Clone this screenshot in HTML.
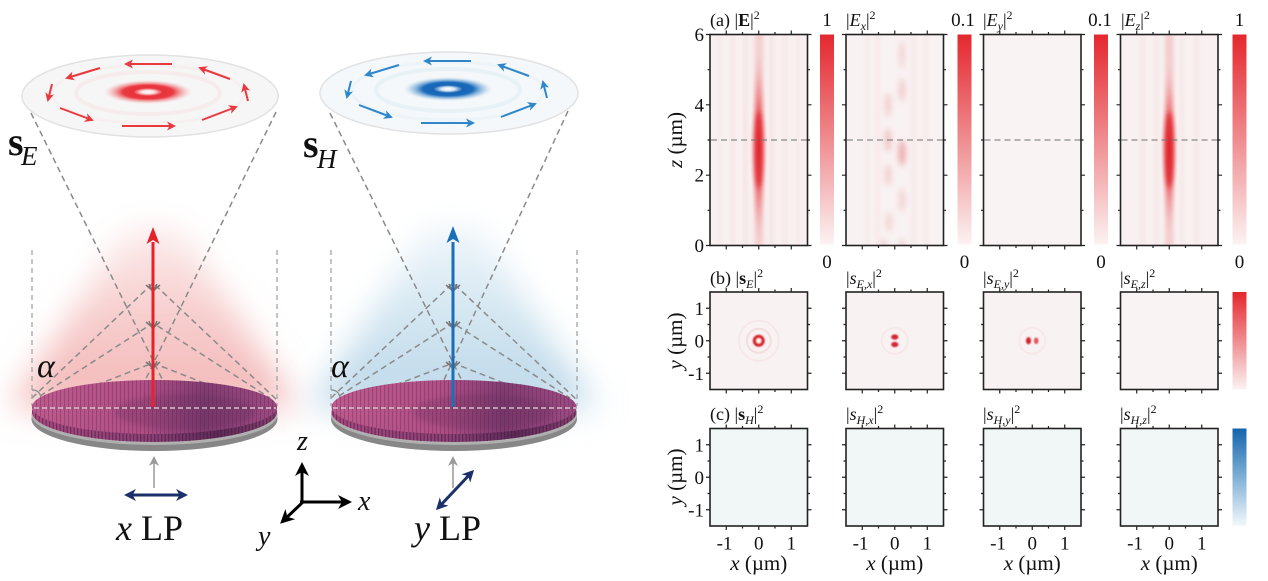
<!DOCTYPE html>
<html><head><meta charset="utf-8"><style>
html,body{margin:0;padding:0;background:#fff;}
svg{display:block;}
text{font-family:"Liberation Serif",serif;fill:#111;}
</style></head><body>
<svg width="1268" height="581" viewBox="0 0 1268 581" xmlns="http://www.w3.org/2000/svg" font-family="Liberation Serif, serif">
<defs>
  <marker id="mr" markerWidth="9" markerHeight="9" refX="7" refY="4.5" orient="auto" markerUnits="userSpaceOnUse"><path d="M0,0 L9,4.5 L0,9 L2.5,4.5z" fill="#e8393f"/></marker>
  <marker id="mb" markerWidth="9" markerHeight="9" refX="7" refY="4.5" orient="auto" markerUnits="userSpaceOnUse"><path d="M0,0 L9,4.5 L0,9 L2.5,4.5z" fill="#2f86c8"/></marker>
  <marker id="mk" markerWidth="14" markerHeight="14" refX="10" refY="7" orient="auto" markerUnits="userSpaceOnUse"><path d="M0,0 L14,7 L0,14 L4,7z" fill="#000"/></marker>
  <marker id="mg" markerWidth="10" markerHeight="10" refX="8" refY="5" orient="auto" markerUnits="userSpaceOnUse"><path d="M0,0 L10,5 L0,10 L3,5z" fill="#999"/></marker>
  <marker id="mn" markerWidth="12" markerHeight="12" refX="9" refY="6" orient="auto-start-reverse" markerUnits="userSpaceOnUse"><path d="M0,0 L12,6 L0,12 L3.5,6z" fill="#1b2f6b"/></marker>

  <linearGradient id="glR" x1="0" y1="0" x2="0" y2="1"><stop offset="0" stop-color="#fcecec"/><stop offset="0.5" stop-color="#f7cdcd"/><stop offset="1" stop-color="#f3b6b6"/></linearGradient>
  <linearGradient id="glB" x1="0" y1="0" x2="0" y2="1"><stop offset="0" stop-color="#eef5fa"/><stop offset="0.5" stop-color="#d3e6f1"/><stop offset="1" stop-color="#bcd7e9"/></linearGradient>
  <filter id="bigblur" filterUnits="userSpaceOnUse" x="-50" y="150" width="700" height="330"><feGaussianBlur stdDeviation="16"/></filter>
  <radialGradient id="donR" cx="0.5" cy="0.5" r="0.5"><stop offset="0" stop-color="#fff"/><stop offset="0.14" stop-color="#fbe0e0"/><stop offset="0.32" stop-color="#e8323a"/><stop offset="0.55" stop-color="#ea3a42"/><stop offset="0.8" stop-color="#f39a9d" stop-opacity="0.5"/><stop offset="1" stop-color="#f4f4f4" stop-opacity="0"/></radialGradient>
  <radialGradient id="donB" cx="0.5" cy="0.5" r="0.5"><stop offset="0" stop-color="#fff"/><stop offset="0.14" stop-color="#dbe9f5"/><stop offset="0.32" stop-color="#1664b6"/><stop offset="0.55" stop-color="#1c6cbc"/><stop offset="0.8" stop-color="#86b4dc" stop-opacity="0.5"/><stop offset="1" stop-color="#f4f4f4" stop-opacity="0"/></radialGradient>
  <linearGradient id="mag" x1="0" y1="0" x2="1" y2="0"><stop offset="0" stop-color="#bd5a8d"/><stop offset="0.45" stop-color="#b04f85"/><stop offset="0.7" stop-color="#823d72"/><stop offset="1" stop-color="#9c4a80"/></linearGradient>
  <linearGradient id="magS" x1="0" y1="0" x2="1" y2="0"><stop offset="0" stop-color="#a8487e"/><stop offset="0.5" stop-color="#8a3f74"/><stop offset="0.75" stop-color="#5e2a58"/><stop offset="1" stop-color="#86406f"/></linearGradient>
  <pattern id="pil" width="3.5" height="10" patternUnits="userSpaceOnUse"><rect x="0" y="0" width="1.3" height="10" fill="#40183c" opacity="0.5"/></pattern>
  <pattern id="pil2" width="4" height="6" patternUnits="userSpaceOnUse"><rect x="0" y="0" width="1" height="6" fill="#5a2350" opacity="0.35"/></pattern>
  <clipPath id="lowL"><rect x="20" y="402" width="280" height="60"/></clipPath>
  <clipPath id="lowR"><rect x="318" y="402" width="280" height="60"/></clipPath>

  <linearGradient id="cbR" x1="0" y1="0" x2="0" y2="1"><stop offset="0" stop-color="#e4272e"/><stop offset="0.5" stop-color="#ef8c8f"/><stop offset="1" stop-color="#fcf3f3"/></linearGradient>
  <linearGradient id="cbB" x1="0" y1="0" x2="0" y2="1"><stop offset="0" stop-color="#1564ac"/><stop offset="0.5" stop-color="#7fb0d6"/><stop offset="1" stop-color="#f3f8fb"/></linearGradient>
  <radialGradient id="streak" cx="0.5" cy="0.5" r="0.5"><stop offset="0" stop-color="#df1f28"/><stop offset="0.3" stop-color="#e8474e" stop-opacity="0.85"/><stop offset="0.65" stop-color="#f09ea1" stop-opacity="0.45"/><stop offset="1" stop-color="#f9f1f1" stop-opacity="0"/></radialGradient>
  <filter id="bl2" x="-50%" y="-50%" width="200%" height="200%"><feGaussianBlur stdDeviation="2"/></filter>
  <filter id="bl3" x="-50%" y="-50%" width="200%" height="200%"><feGaussianBlur stdDeviation="3"/></filter>
  <filter id="bl1" x="-50%" y="-50%" width="200%" height="200%"><feGaussianBlur stdDeviation="0.7"/></filter>
  <clipPath id="cA1"><rect x="710" y="34.5" width="97.5" height="211"/></clipPath>
  <clipPath id="cA2"><rect x="846" y="34.5" width="97.5" height="211"/></clipPath>
  <clipPath id="cA4"><rect x="1120.5" y="34.5" width="97.5" height="211"/></clipPath>

  <g id="tkA" fill="none" stroke="#222" stroke-width="1.2">
    <path d="M16.25 0v-4M48.75 0v-4M81.25 0v-4M32.5 0v-2.5M65 0v-2.5M16.25 211v4M48.75 211v4M81.25 211v4M32.5 211v2.5M65 211v2.5M0 0h-4M0 70.33h-4M0 140.67h-4M0 211h-4M0 35.17h-2.5M0 105.5h-2.5M0 175.83h-2.5M97.5 0h4M97.5 70.33h4M97.5 140.67h4M97.5 211h4M97.5 35.17h2.5M97.5 105.5h2.5M97.5 175.83h2.5"/>
  </g>
  <g id="tkS" fill="none" stroke="#222" stroke-width="1.2">
    <path d="M16.25 0v-4M48.75 0v-4M81.25 0v-4M32.5 0v-2.5M65 0v-2.5M16.25 97.5v4M48.75 97.5v4M81.25 97.5v4M32.5 97.5v2.5M65 97.5v2.5M0 16.25h-4M0 48.75h-4M0 81.25h-4M0 32.5h-2.5M0 65h-2.5M97.5 16.25h4M97.5 48.75h4M97.5 81.25h4M97.5 32.5h2.5M97.5 65h2.5"/>
  </g>
</defs>

<!-- ================= LEFT ILLUSTRATION ================= -->
<polygon points="128,228 180,228 298,408 10,408" fill="url(#glR)" filter="url(#bigblur)"/>
<polygon points="427,228 479,228 597,408 309,408" fill="url(#glB)" filter="url(#bigblur)"/>

<!-- top discs -->
<ellipse cx="150" cy="96" rx="128" ry="41" fill="#f6f6f6" stroke="#e2e2e2" stroke-width="1.5"/>
<ellipse cx="148" cy="93" rx="72" ry="21" fill="none" stroke="#f6ecec" stroke-width="4"/>
<ellipse cx="148" cy="94" rx="96" ry="29" fill="none" stroke="#f7f0f0" stroke-width="3"/>
<ellipse cx="148" cy="92" rx="46" ry="12.5" fill="url(#donR)"/>
<ellipse cx="449" cy="93" rx="129" ry="41" fill="#f4f8fa" stroke="#e2e2e2" stroke-width="1.5"/>
<ellipse cx="448" cy="90" rx="72" ry="21" fill="none" stroke="#e7f1f6" stroke-width="4"/>
<ellipse cx="448" cy="91" rx="96" ry="29" fill="none" stroke="#edf4f7" stroke-width="3"/>
<ellipse cx="448" cy="89" rx="46" ry="12.5" fill="url(#donB)"/>

<g stroke="#e8393f" stroke-width="2" fill="none" marker-end="url(#mr)">
  <path d="M172,64 L126,64"/>
  <path d="M100,68 L67,78"/>
  <path d="M52,84 L48,100"/>
  <path d="M60,108 L92,120"/>
  <path d="M122,126 L174,126"/>
  <path d="M202,120 L236,107"/>
  <path d="M248,101 L244,85"/>
  <path d="M230,79 L200,68"/>
</g>
<g stroke="#2f86c8" stroke-width="2" fill="none" marker-end="url(#mb)" transform="translate(299,-3)">
  <path d="M172,64 L126,64"/>
  <path d="M100,68 L67,78"/>
  <path d="M52,84 L48,100"/>
  <path d="M60,108 L92,120"/>
  <path d="M122,126 L174,126"/>
  <path d="M202,120 L236,107"/>
  <path d="M248,101 L244,85"/>
  <path d="M230,79 L200,68"/>
</g>

<text x="8" y="155" font-size="40" font-weight="bold">s</text>
<text x="21" y="165" font-size="27" font-style="italic">E</text>
<text x="303" y="157" font-size="40" font-weight="bold">s</text>
<text x="317" y="168" font-size="27" font-style="italic">H</text>

<g stroke="#8a8a8a" stroke-width="1.5" stroke-dasharray="6 4" fill="none">
  <path d="M31,113 L170,395 M276,112 L138,395"/>
  <path d="M32,398 L153,283 L277,400"/>
  <path d="M40,396 L153,323 L270,398"/>
  <path d="M78,392 L153,363 L232,394"/>
  <path d="M330,113 L469,395 M568,111 L437,395"/>
  <path d="M331,398 L453,283 L577,400"/>
  <path d="M339,396 L453,323 L570,398"/>
  <path d="M377,392 L453,363 L532,394"/>
</g>
<g stroke="#aaaaaa" stroke-width="1.4" stroke-dasharray="5 4" fill="none">
  <path d="M32,250 V406 M277,250 V406 M331,250 V406 M577,250 V406"/>
</g>
<g stroke="#8a8a8a" stroke-width="1.2" fill="none">
  <path d="M32,390 Q40,390 41,398"/>
  <path d="M331,390 Q339,390 340,398"/>
</g>

<!-- bottom discs -->
<ellipse cx="154.5" cy="419" rx="123" ry="32" fill="#878787"/>
<ellipse cx="154.5" cy="415" rx="123" ry="30" fill="#b0b0b0"/>
<ellipse cx="154.5" cy="412" rx="122.5" ry="30" fill="url(#magS)"/>
<ellipse cx="154.5" cy="412" rx="122.5" ry="30" fill="url(#pil)" clip-path="url(#lowL)"/>
<ellipse cx="154.5" cy="407" rx="122.5" ry="27" fill="url(#mag)"/>
<ellipse cx="154.5" cy="407" rx="122.5" ry="27" fill="url(#pil2)"/>
<ellipse cx="185" cy="412" rx="70" ry="18" fill="#5a2752" opacity="0.25" filter="url(#bl3)"/>
<ellipse cx="454" cy="419" rx="123" ry="32" fill="#878787"/>
<ellipse cx="454" cy="415" rx="123" ry="30" fill="#b0b0b0"/>
<ellipse cx="454" cy="412" rx="122.5" ry="30" fill="url(#magS)"/>
<ellipse cx="454" cy="412" rx="122.5" ry="30" fill="url(#pil)" clip-path="url(#lowR)"/>
<ellipse cx="454" cy="407" rx="122.5" ry="27" fill="url(#mag)"/>
<ellipse cx="454" cy="407" rx="122.5" ry="27" fill="url(#pil2)"/>
<ellipse cx="484" cy="412" rx="70" ry="18" fill="#5a2752" opacity="0.25" filter="url(#bl3)"/>
<g stroke="#dddddd" stroke-width="1.2" stroke-dasharray="5 3">
  <path d="M34,408 H276 M333,408 H576"/>
</g>

<g stroke="#777" stroke-width="1.5" fill="none">
  <path d="M153,295 V283 M153,291 L146,285 M153,291 L160,285 M153,293 L149,284 M153,293 L157,284"/>
  <path d="M153,332 V320 M153,328 L146,322 M153,328 L160,322 M153,330 L149,321 M153,330 L157,321"/>
  <path d="M153,372 V360 M153,368 L146,362 M153,368 L160,362 M153,370 L149,361 M153,370 L157,361"/>
  <path d="M453,295 V283 M453,291 L446,285 M453,291 L460,285 M453,293 L449,284 M453,293 L457,284"/>
  <path d="M453,332 V320 M453,328 L446,322 M453,328 L460,322 M453,330 L449,321 M453,330 L457,321"/>
  <path d="M453,372 V360 M453,368 L446,362 M453,368 L460,362 M453,370 L449,361 M453,370 L457,361"/>
</g>

<path d="M153,407 V242" stroke="#e4232b" stroke-width="3"/>
<path d="M153,227 L146.5,244 L153,240 L159.5,244z" fill="#e4232b"/>
<path d="M453,407 V242" stroke="#1a6fba" stroke-width="3"/>
<path d="M453,226 L446.5,243 L453,239 L459.5,243z" fill="#1a6fba"/>

<text x="37" y="377" font-size="34" font-style="italic">α</text>
<text x="331" y="377" font-size="34" font-style="italic">α</text>

<path d="M154,488 V458" stroke="#999" stroke-width="1.5" marker-end="url(#mg)"/>
<path d="M453,488 V458" stroke="#999" stroke-width="1.5" marker-end="url(#mg)"/>
<path d="M127,495 H185" stroke="#1b2f6b" stroke-width="3" marker-start="url(#mn)" marker-end="url(#mn)"/>
<path d="M438,508 L472,472" stroke="#1b2f6b" stroke-width="3" marker-start="url(#mn)" marker-end="url(#mn)"/>

<text x="116" y="540" font-size="36"><tspan font-style="italic">x</tspan> LP</text>
<text x="414" y="540" font-size="36"><tspan font-style="italic">y</tspan> LP</text>

<g stroke="#000" stroke-width="3" fill="none">
  <path d="M302,503 V466" marker-end="url(#mk)"/>
  <path d="M300,502 H348" marker-end="url(#mk)"/>
  <path d="M303,502 L283,521" marker-end="url(#mk)"/>
</g>
<text x="297" y="450" font-size="28" font-style="italic">z</text>
<text x="358" y="510" font-size="28" font-style="italic">x</text>
<text x="258" y="545" font-size="28" font-style="italic">y</text>

<!-- ================= RIGHT PLOTS ================= -->
<rect x="710" y="34.5" width="97.5" height="211" fill="#f9f1f1"/>
<rect x="846" y="34.5" width="97.5" height="211" fill="#f9f2f2"/>
<rect x="983.5" y="34.5" width="97.5" height="211" fill="#f9f3f3"/>
<rect x="1120.5" y="34.5" width="97.5" height="211" fill="#f9f1f1"/>

<g clip-path="url(#cA1)">
  <g filter="url(#bl2)" fill="#f3dddd" opacity="0.8">
    <rect x="744" y="34" width="3.5" height="212"/><rect x="770" y="34" width="3.5" height="212"/>
    <rect x="731" y="34" width="3" height="212"/><rect x="783.5" y="34" width="3" height="212"/>
    <rect x="718" y="34" width="3" height="212" opacity="0.6"/><rect x="796.5" y="34" width="3" height="212" opacity="0.6"/>
  </g>
  <rect x="754.5" y="34" width="9" height="212" fill="#f4cfd0" filter="url(#bl2)"/>
  <ellipse cx="758.75" cy="148" rx="9" ry="110" fill="url(#streak)"/>
  <ellipse cx="758.75" cy="150" rx="5" ry="38" fill="#e2262d" opacity="0.6" filter="url(#bl2)"/>
</g>
<g clip-path="url(#cA2)">
  <g filter="url(#bl2)" fill="#f4e2e2" opacity="0.8">
    <rect x="866" y="34" width="3" height="212"/><rect x="876" y="34" width="3" height="212"/>
    <rect x="912" y="34" width="3" height="212"/><rect x="924" y="34" width="3" height="212"/>
  </g>
  <g filter="url(#bl3)">
    <ellipse cx="902" cy="55" rx="3" ry="14" fill="#f4d3d4"/>
    <ellipse cx="902" cy="90" rx="3.5" ry="12" fill="#f3cfd0"/>
    <ellipse cx="888" cy="105" rx="3.5" ry="12" fill="#f3d0d1"/>
    <ellipse cx="888" cy="140" rx="3.5" ry="12" fill="#f1c6c8"/>
    <ellipse cx="902" cy="153" rx="4" ry="13" fill="#eeb0b3"/>
    <ellipse cx="888" cy="175" rx="3.5" ry="11" fill="#f3d0d1"/>
    <ellipse cx="902" cy="200" rx="3.5" ry="12" fill="#f4d4d5"/>
    <ellipse cx="889" cy="222" rx="3.5" ry="10" fill="#f4d6d7"/>
    <ellipse cx="884" cy="244" rx="3" ry="5" fill="#f1cfd0"/>
    <ellipse cx="902" cy="244" rx="3" ry="5" fill="#f1cfd0"/>
  </g>
</g>
<g clip-path="url(#cA4)">
  <g filter="url(#bl2)" fill="#f3dcdc" opacity="0.7">
    <rect x="1155" y="34" width="3" height="212"/><rect x="1180.5" y="34" width="3" height="212"/>
    <rect x="1141" y="34" width="3" height="212"/><rect x="1195" y="34" width="3" height="212"/>
  </g>
  <rect x="1165" y="34" width="8.5" height="212" fill="#f4cbcc" filter="url(#bl2)"/>
  <ellipse cx="1169.25" cy="150" rx="9" ry="98" fill="url(#streak)"/>
  <ellipse cx="1169.25" cy="150" rx="5" ry="38" fill="#e0232b" opacity="0.65" filter="url(#bl2)"/>
</g>

<g stroke="#707070" stroke-width="1.1" stroke-dasharray="6 4">
  <path d="M711,140 H807 M847,140 H943 M984.5,140 H1080.5 M1121.5,140 H1217.5"/>
</g>

<g fill="none" stroke="#222" stroke-width="1.6">
  <rect x="710" y="34.5" width="97.5" height="211"/>
  <rect x="846" y="34.5" width="97.5" height="211"/>
  <rect x="983.5" y="34.5" width="97.5" height="211"/>
  <rect x="1120.5" y="34.5" width="97.5" height="211"/>
</g>
<use href="#tkA" transform="translate(710,34.5)"/>
<use href="#tkA" transform="translate(846,34.5)"/>
<use href="#tkA" transform="translate(983.5,34.5)"/>
<use href="#tkA" transform="translate(1120.5,34.5)"/>

<rect x="820" y="34.5" width="14" height="210" fill="url(#cbR)"/>
<rect x="957.5" y="34.5" width="14" height="210" fill="url(#cbR)"/>
<rect x="1094" y="34.5" width="14" height="210" fill="url(#cbR)"/>
<rect x="1232.5" y="34.5" width="14" height="210" fill="url(#cbR)"/>

<rect x="710" y="292" width="97.5" height="97.5" fill="#f9f2f2"/>
<rect x="846" y="292" width="97.5" height="97.5" fill="#f9f2f2"/>
<rect x="983.5" y="292" width="97.5" height="97.5" fill="#f9f2f2"/>
<rect x="1120.5" y="292" width="97.5" height="97.5" fill="#f9f3f3"/>
<circle cx="758.75" cy="340.75" r="20" fill="none" stroke="#f6e8e8" stroke-width="2"/>
<circle cx="758.75" cy="340.75" r="12" fill="none" stroke="#f3dddd" stroke-width="2"/>
<circle cx="758.75" cy="340.75" r="4.3" fill="#fff6ee" stroke="#d6212b" stroke-width="3.4" filter="url(#bl1)"/>
<circle cx="894.75" cy="340.75" r="13" fill="none" stroke="#f6e8e8" stroke-width="2"/>
<ellipse cx="894.75" cy="337" rx="3.6" ry="2.6" fill="#d42836" filter="url(#bl1)"/>
<ellipse cx="894.75" cy="344.5" rx="3.6" ry="2.6" fill="#d42836" filter="url(#bl1)"/>
<circle cx="1032.25" cy="340.75" r="13" fill="none" stroke="#f6e9e9" stroke-width="2"/>
<ellipse cx="1028.5" cy="340.75" rx="2.6" ry="3.6" fill="#d52731" filter="url(#bl1)"/>
<ellipse cx="1036.2" cy="340.75" rx="2.3" ry="3.3" fill="#e2585f" filter="url(#bl1)"/>
<g fill="none" stroke="#222" stroke-width="1.6">
  <rect x="710" y="292" width="97.5" height="97.5"/>
  <rect x="846" y="292" width="97.5" height="97.5"/>
  <rect x="983.5" y="292" width="97.5" height="97.5"/>
  <rect x="1120.5" y="292" width="97.5" height="97.5"/>
</g>
<use href="#tkS" transform="translate(710,292)"/>
<use href="#tkS" transform="translate(846,292)"/>
<use href="#tkS" transform="translate(983.5,292)"/>
<use href="#tkS" transform="translate(1120.5,292)"/>
<rect x="1232.5" y="292" width="14" height="97.5" fill="url(#cbR)"/>

<rect x="710" y="428.5" width="97.5" height="97.5" fill="#f1f7f6"/>
<rect x="846" y="428.5" width="97.5" height="97.5" fill="#f1f7f6"/>
<rect x="983.5" y="428.5" width="97.5" height="97.5" fill="#f1f7f6"/>
<rect x="1120.5" y="428.5" width="97.5" height="97.5" fill="#f1f7f6"/>
<g fill="none" stroke="#222" stroke-width="1.6">
  <rect x="710" y="428.5" width="97.5" height="97.5"/>
  <rect x="846" y="428.5" width="97.5" height="97.5"/>
  <rect x="983.5" y="428.5" width="97.5" height="97.5"/>
  <rect x="1120.5" y="428.5" width="97.5" height="97.5"/>
</g>
<use href="#tkS" transform="translate(710,428.5)"/>
<use href="#tkS" transform="translate(846,428.5)"/>
<use href="#tkS" transform="translate(983.5,428.5)"/>
<use href="#tkS" transform="translate(1120.5,428.5)"/>
<rect x="1232.5" y="428.5" width="14" height="97.5" fill="url(#cbB)"/>

<g font-size="18">
  <text x="710" y="26">(a) |<tspan font-weight="bold">E</tspan>|<tspan dy="-7" font-size="12">2</tspan></text>
  <text x="846" y="26">|<tspan font-style="italic">E</tspan><tspan font-style="italic" font-size="12" dy="4">x</tspan><tspan dy="-4">|</tspan><tspan dy="-7" font-size="12">2</tspan></text>
  <text x="983" y="26">|<tspan font-style="italic">E</tspan><tspan font-style="italic" font-size="12" dy="4">y</tspan><tspan dy="-4">|</tspan><tspan dy="-7" font-size="12">2</tspan></text>
  <text x="1121" y="26">|<tspan font-style="italic">E</tspan><tspan font-style="italic" font-size="12" dy="4">z</tspan><tspan dy="-4">|</tspan><tspan dy="-7" font-size="12">2</tspan></text>

  <text x="710" y="284">(b) |<tspan font-weight="bold">s</tspan><tspan font-style="italic" font-size="12" dy="4">E</tspan><tspan dy="-4">|</tspan><tspan dy="-7" font-size="12">2</tspan></text>
  <text x="846" y="284">|<tspan font-style="italic">s</tspan><tspan font-style="italic" font-size="12" dy="4">E,x</tspan><tspan dy="-4">|</tspan><tspan dy="-7" font-size="12">2</tspan></text>
  <text x="983" y="284">|<tspan font-style="italic">s</tspan><tspan font-style="italic" font-size="12" dy="4">E,y</tspan><tspan dy="-4">|</tspan><tspan dy="-7" font-size="12">2</tspan></text>
  <text x="1120" y="284">|<tspan font-style="italic">s</tspan><tspan font-style="italic" font-size="12" dy="4">E,z</tspan><tspan dy="-4">|</tspan><tspan dy="-7" font-size="12">2</tspan></text>

  <text x="710" y="420">(c) |<tspan font-weight="bold">s</tspan><tspan font-style="italic" font-size="12" dy="4">H</tspan><tspan dy="-4">|</tspan><tspan dy="-7" font-size="12">2</tspan></text>
  <text x="846" y="420">|<tspan font-style="italic">s</tspan><tspan font-style="italic" font-size="12" dy="4">H,x</tspan><tspan dy="-4">|</tspan><tspan dy="-7" font-size="12">2</tspan></text>
  <text x="983" y="420">|<tspan font-style="italic">s</tspan><tspan font-style="italic" font-size="12" dy="4">H,y</tspan><tspan dy="-4">|</tspan><tspan dy="-7" font-size="12">2</tspan></text>
  <text x="1120" y="420">|<tspan font-style="italic">s</tspan><tspan font-style="italic" font-size="12" dy="4">H,z</tspan><tspan dy="-4">|</tspan><tspan dy="-7" font-size="12">2</tspan></text>
</g>

<g font-size="19" text-anchor="middle">
  <text x="827" y="26">1</text>
  <text x="963" y="26">0.1</text>
  <text x="1100" y="26">0.1</text>
  <text x="1239.5" y="26">1</text>
  <text x="827" y="268">0</text>
  <text x="964.5" y="268">0</text>
  <text x="1101" y="268">0</text>
  <text x="1239.5" y="268">0</text>
</g>

<g font-size="19" text-anchor="end">
  <text x="704" y="41">6</text>
  <text x="704" y="111.3">4</text>
  <text x="704" y="181.7">2</text>
  <text x="704" y="252">0</text>
  <text x="704" y="314.8">1</text>
  <text x="704" y="347.3">0</text>
  <text x="704" y="379.8">-1</text>
  <text x="704" y="451.3">1</text>
  <text x="704" y="483.8">0</text>
  <text x="704" y="516.3">-1</text>
</g>

<g font-size="19" text-anchor="middle">
  <text x="724.5" y="549.5">-1</text><text x="758.75" y="549.5">0</text><text x="791.25" y="549.5">1</text>
  <text x="860.5" y="549.5">-1</text><text x="894.75" y="549.5">0</text><text x="927.25" y="549.5">1</text>
  <text x="998" y="549.5">-1</text><text x="1032.25" y="549.5">0</text><text x="1064.75" y="549.5">1</text>
  <text x="1135" y="549.5">-1</text><text x="1169.25" y="549.5">0</text><text x="1201.75" y="549.5">1</text>
</g>
<g font-size="21" text-anchor="middle">
  <text x="758.75" y="570"><tspan font-style="italic">x</tspan> (µm)</text>
  <text x="894.75" y="570"><tspan font-style="italic">x</tspan> (µm)</text>
  <text x="1032.25" y="570"><tspan font-style="italic">x</tspan> (µm)</text>
  <text x="1169.25" y="570"><tspan font-style="italic">x</tspan> (µm)</text>
  <text transform="translate(682,140) rotate(-90)"><tspan font-style="italic">z</tspan> (µm)</text>
  <text transform="translate(682,341) rotate(-90)"><tspan font-style="italic">y</tspan> (µm)</text>
  <text transform="translate(682,477) rotate(-90)"><tspan font-style="italic">y</tspan> (µm)</text>
</g>
</svg>
</body></html>
